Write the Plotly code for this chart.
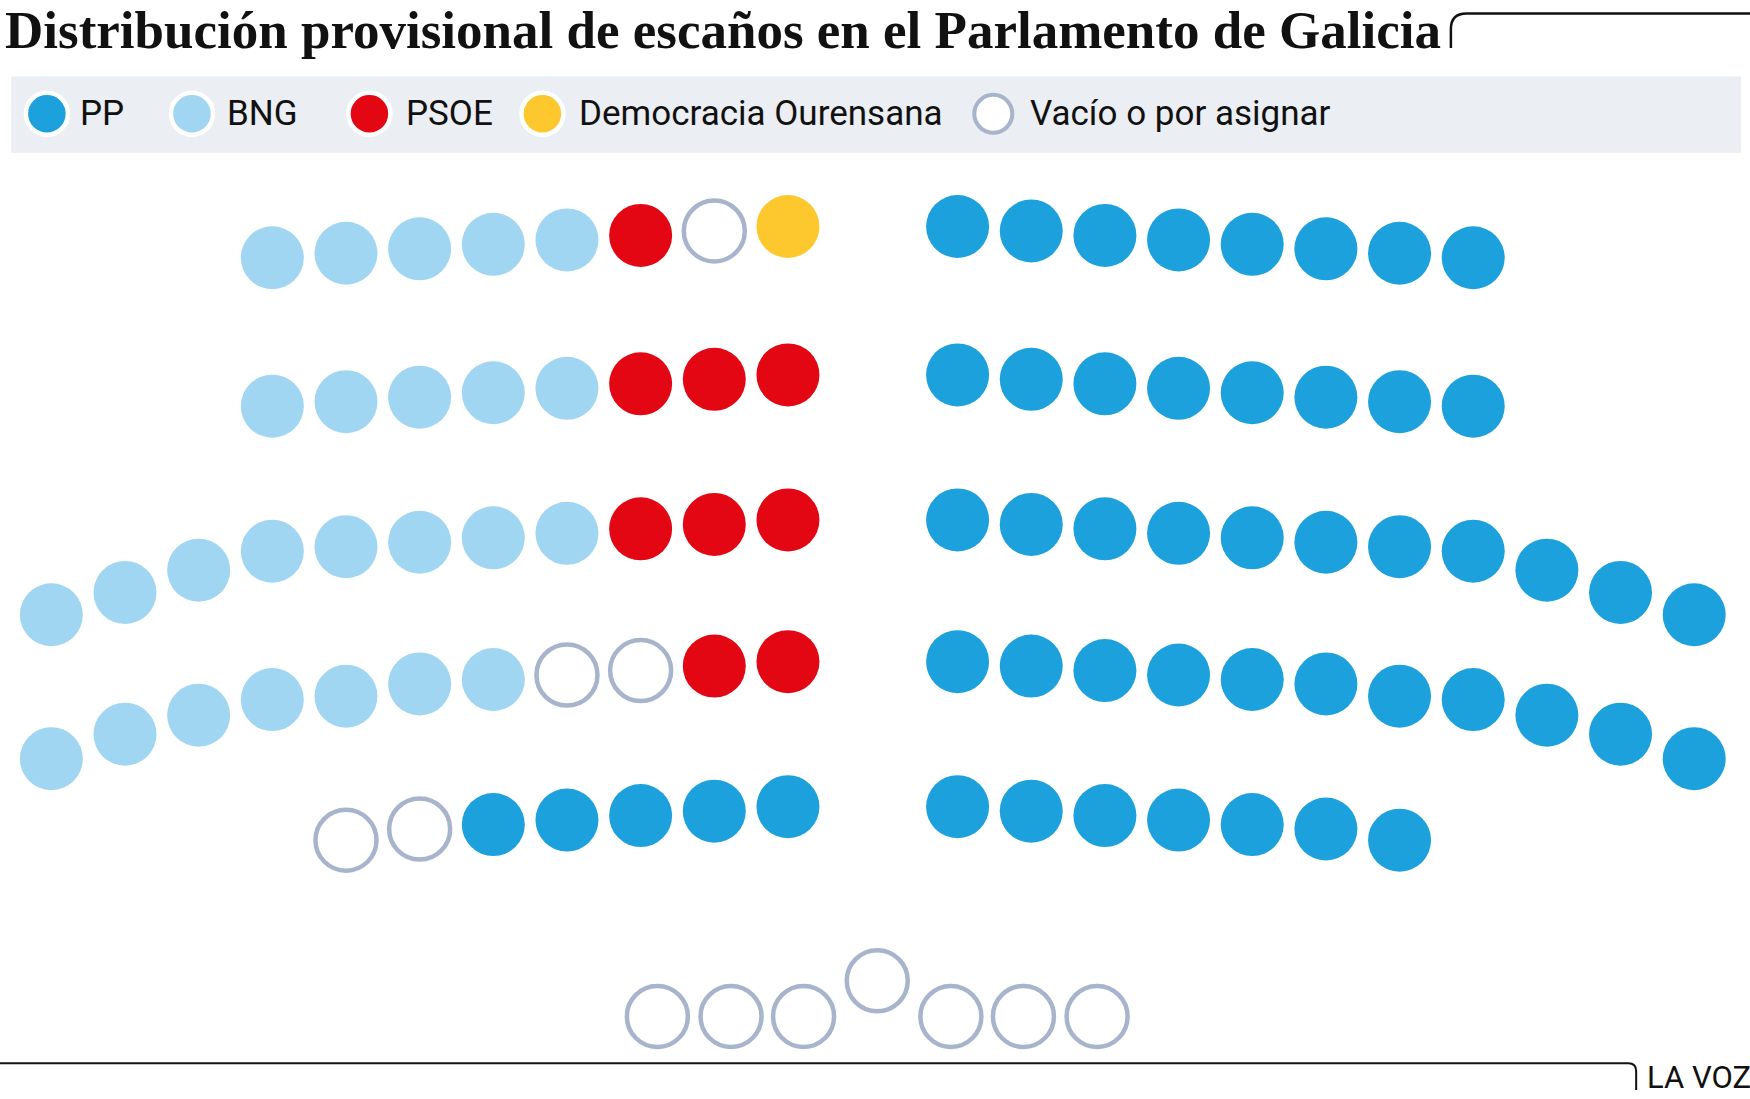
import plotly.graph_objects as go

# parties: code, legend label, colour
PARTY_CODES = ["PP", "BNG", "PSOE", "DO", "VAC"]
PARTY_NAMES = ["PP", "BNG", "PSOE", "Democracia Ourensana", "Vacío o por asignar"]
PARTY_COLORS = ["#1ca1dc", "#a0d6f2", "#e30713", "#fdc82e", "#ffffff"]

# seats of each bench row, listed from the centre aisle outwards
LEFT_ROWS = [
    ["DO", "VAC", "PSOE", "BNG", "BNG", "BNG", "BNG", "BNG"],
    ["PSOE", "PSOE", "PSOE", "BNG", "BNG", "BNG", "BNG", "BNG"],
    ["PSOE", "PSOE", "PSOE", "BNG", "BNG", "BNG", "BNG", "BNG", "BNG", "BNG", "BNG"],
    ["PSOE", "PSOE", "VAC", "VAC", "BNG", "BNG", "BNG", "BNG", "BNG", "BNG", "BNG"],
    ["PP", "PP", "PP", "PP", "PP", "VAC", "VAC"],
]
RIGHT_ROWS = [
    ["PP", "PP", "PP", "PP", "PP", "PP", "PP", "PP"],
    ["PP", "PP", "PP", "PP", "PP", "PP", "PP", "PP"],
    ["PP", "PP", "PP", "PP", "PP", "PP", "PP", "PP", "PP", "PP", "PP"],
    ["PP", "PP", "PP", "PP", "PP", "PP", "PP", "PP", "PP", "PP", "PP"],
    ["PP", "PP", "PP", "PP", "PP", "PP", "PP"],
]
# front bench (mesa), left to right
FRONT_ROW = ["VAC", "VAC", "VAC", "VAC", "VAC", "VAC", "VAC"]

# --- hall geometry (drawing units, page is 1568 x 985 of them) ---
CX = 782
COL_START = 76
COL_STEP = 66
ROW_Y = [203, 336, 466, 593, 723]
SLOPE = 4
WING_DROP = [
    [0] * 8,
    [0] * 8,
    [0, 0, 0, 0, 0, 0, 0, 0, 13, 29, 45],
    [0, 0, 0, 0, 0, 0, 7, 6, 16, 29, 47],
    [0, 0, 0, 0, 0, 0, 6],
]
FRONT_CX = 786
FRONT_OFFSETS = [-197, -131, -66, 0, 66, 131, 197]
FRONT_LIFT = [0, 0, 0, 32, 0, 0, 0]
FRONT_Y = 911

LEGEND_MARK_X = [42, 172, 331, 486, 890]
LEGEND_TEXT_X = [70, 202, 362, 517, 921]
LEGEND_Y = 102

EMPTY_LINE = "#a8b4cb"

seats = {c: ([], []) for c in PARTY_CODES}
for side, rows in ((-1, LEFT_ROWS), (1, RIGHT_ROWS)):
    for r, row in enumerate(rows):
        for k, code in enumerate(row):
            seats[code][0].append(CX + side * (COL_START + COL_STEP * k))
            seats[code][1].append(ROW_Y[r] + SLOPE * k + WING_DROP[r][k])
for i, code in enumerate(FRONT_ROW):
    seats[code][0].append(FRONT_CX + FRONT_OFFSETS[i])
    seats[code][1].append(FRONT_Y - FRONT_LIFT[i])

fig = go.Figure()

for code, color in zip(PARTY_CODES, PARTY_COLORS):
    xs, ys = seats[code]
    if code == "VAC":
        marker = dict(size=61, color="white", line=dict(color=EMPTY_LINE, width=4.5))
    else:
        marker = dict(size=63, color=color, line=dict(width=0))
    fig.add_trace(go.Scatter(x=xs, y=ys, mode="markers", marker=marker,
                             name=code, hoverinfo="skip"))

# legend
for code, name, color, mx, tx in zip(PARTY_CODES, PARTY_NAMES, PARTY_COLORS,
                                     LEGEND_MARK_X, LEGEND_TEXT_X):
    if code == "VAC":
        marker = dict(size=38, color="white", line=dict(color=EMPTY_LINE, width=4))
    else:
        marker = dict(size=42, color=color, line=dict(color="white", width=4.5))
    fig.add_trace(go.Scatter(x=[mx], y=[LEGEND_Y], mode="markers", marker=marker,
                             hoverinfo="skip"))
    fig.add_annotation(x=tx, y=LEGEND_Y, text=name, showarrow=False,
                       xanchor="left", yanchor="middle",
                       font=dict(family="Roboto", size=35, color="#111111"))

fig.add_annotation(x=3, y=27, text="<b>Distribución provisional de escaños en el Parlamento de Galicia</b>",
                   showarrow=False, xanchor="left", yanchor="middle",
                   font=dict(family="Liberation Serif", size=53, color="#111111"))
fig.add_annotation(x=1474, y=966, text="LA VOZ", showarrow=False,
                   xanchor="left", yanchor="middle",
                   font=dict(family="Roboto", size=31, color="#111111"))

fig.add_shape(type="rect", x0=10, x1=1560, y0=68.5, y1=137,
              fillcolor="#ebeef2", line=dict(width=0), layer="below")
fig.add_shape(type="path", path="M 1300,43 L 1300,26 Q 1300,12 1314,12 L 1570,12",
              line=dict(color="#111111", width=2.5))
fig.add_shape(type="path", path="M -2,953 L 1459,953 Q 1466,953 1466,960 L 1466,977",
              line=dict(color="#111111", width=2))

fig.update_layout(
    width=1750, height=1099,
    margin=dict(l=0, r=0, t=0, b=0),
    paper_bgcolor="white", plot_bgcolor="white",
    showlegend=False,
    xaxis=dict(range=[0, 1568], visible=False, fixedrange=True),
    yaxis=dict(range=[985, 0], visible=False, fixedrange=True),
)

# the page's default 8px body margin would push the figure off the window
fig.write_html("out.html", config={"displayModeBar": False},
               post_script="document.body.style.margin = '0px';")
